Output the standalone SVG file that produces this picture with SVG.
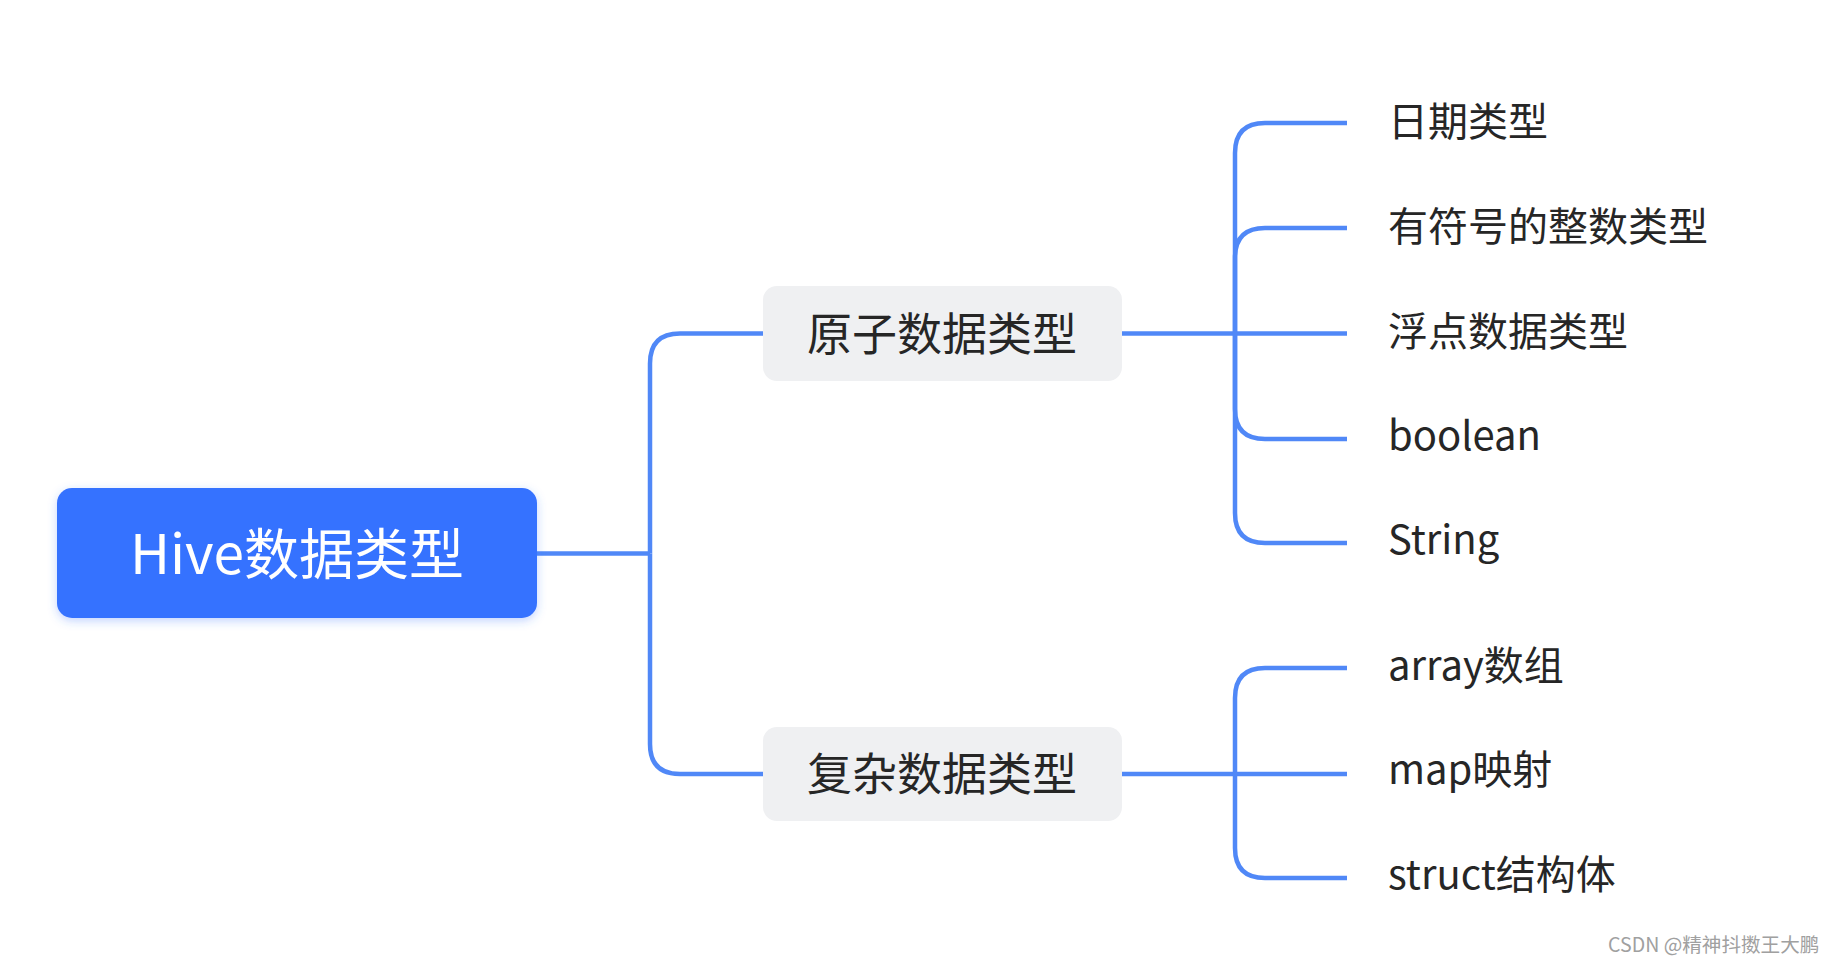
<svg xmlns="http://www.w3.org/2000/svg" width="1835" height="963" viewBox="0 0 1835 963">
<style>
.ln{fill:none;stroke:#5088f7;stroke-width:4.5;stroke-linecap:butt}
.t{font-family:"Noto Sans CJK SC","Noto Sans",sans-serif;fill:#262626;dominant-baseline:central}
.leaf{font-size:40px}
.mid{font-size:45px;text-anchor:middle}
.root{font-size:55px;text-anchor:middle;fill:#ffffff}
.nb{fill:#eff0f2}
</style>
<defs>
<filter id="sh" x="-10%" y="-20%" width="120%" height="140%">
<feDropShadow dx="0" dy="3" stdDeviation="5" flood-color="#3672ff" flood-opacity="0.3"/>
</filter>
</defs>
<rect width="1835" height="963" fill="#ffffff"/>
<g id="connectors">
<path class="ln" d="M537 553.5 H650"/>
<path class="ln" d="M650 553.5 V363.5 Q650 333.5 680 333.5 H763"/>
<path class="ln" d="M650 553.5 V744 Q650 774 680 774 H763"/>
<path class="ln" d="M1122 333.5 H1347"/>
<path class="ln" d="M1235 333.5 V153 Q1235 123 1265 123 H1347"/>
<path class="ln" d="M1235 333.5 V258 Q1235 228 1265 228 H1347"/>
<path class="ln" d="M1235 333.5 V409 Q1235 439 1265 439 H1347"/>
<path class="ln" d="M1235 333.5 V513 Q1235 543 1265 543 H1347"/>
<path class="ln" d="M1122 774 H1347"/>
<path class="ln" d="M1235 774 V698 Q1235 668 1265 668 H1347"/>
<path class="ln" d="M1235 774 V848 Q1235 878 1265 878 H1347"/>
</g>
<g id="root">
<rect x="57" y="488" width="480" height="130" rx="15" fill="#3672ff" filter="url(#sh)"/>
<text class="t root" x="297" y="550">Hive数据类型</text>
</g>
<g id="n-atomic">
<rect class="nb" x="763" y="286" width="359" height="95" rx="14"/>
<text class="t mid" x="942" y="331">原子数据类型</text>
</g>
<g id="n-complex">
<rect class="nb" x="763" y="727" width="359" height="94" rx="14"/>
<text class="t mid" x="942" y="771">复杂数据类型</text>
</g>
<g id="leaf-date"><text class="t leaf" x="1388" y="119">日期类型</text></g>
<g id="leaf-int"><text class="t leaf" x="1388" y="224">有符号的整数类型</text></g>
<g id="leaf-float"><text class="t leaf" x="1388" y="329">浮点数据类型</text></g>
<g id="leaf-bool"><text class="t leaf" x="1388" y="433">boolean</text></g>
<g id="leaf-string"><text class="t leaf" x="1388" y="537">String</text></g>
<g id="leaf-array"><text class="t leaf" x="1388" y="663">array数组</text></g>
<g id="leaf-map"><text class="t leaf" x="1388" y="767">map映射</text></g>
<g id="leaf-struct"><text class="t leaf" x="1388" y="872">struct结构体</text></g>
<text x="1608" y="952" font-family="&quot;Noto Sans CJK SC&quot;,&quot;Noto Sans&quot;,sans-serif" font-size="19.6" fill="#a0a0a0">CSDN @精神抖擞王大鹏</text>
</svg>
